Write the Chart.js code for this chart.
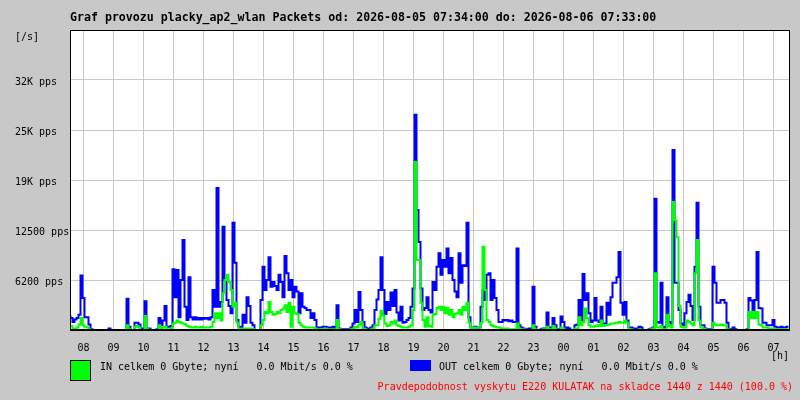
<!DOCTYPE html>
<html>
<head>
<meta charset="utf-8">
<script src="https://cdn.jsdelivr.net/npm/chart.js@4/dist/chart.umd.min.js"></script>
<style>
  html, body { margin: 0; padding: 0; background: #c8c8c8; }
  #graf { display: block; }
</style>
</head>
<body>
<canvas id="graf" width="800" height="400"></canvas>
<script>
const titleText = 'Graf provozu placky_ap2_wlan Packets od: 2026-08-05 07:34:00 do: 2026-08-06 07:33:00';
const hourLabels = ['08','09','10','11','12','13','14','15','16','17','18','19',
                    '20','21','22','23','00','01','02','03','04','05','06','07'];
const yTickLabels = ['', '6200 pps', '12500 pps', '19K pps', '25K pps', '32K pps', ''];
const firstHourMin = 26;   // 07:34 -> 08:00
const stepMin = 4;         // one sample every 4 minutes

// OUT (blue), packets per second
const outPps = [
  1800,1500,1000,1300,1500,1900,6800,4000,1600,1600,700,100,0,0,0,
  0,0,0,0,0,200,0,0,0,0,0,0,0,0,3900,
  400,0,0,900,900,700,100,200,3600,200,200,0,0,0,100,
  1500,600,1200,3000,400,400,500,7600,4100,7500,1600,6250,11250,2900,1250,
  6600,1600,1300,1600,1300,1500,1300,1500,1400,1500,1300,1600,5000,2900,17750,
  2900,3500,12900,6250,3750,3000,2100,13400,8400,1250,400,300,1900,900,4100,
  3000,900,600,0,0,0,3750,7900,5000,6250,9100,5400,6000,5500,5000,
  6900,6000,4100,9250,7100,5000,6250,4100,5400,4800,2100,4600,2900,2750,2500,
  2500,1500,2100,1250,250,300,300,400,400,200,300,200,400,200,3100,
  200,100,0,100,0,100,300,800,2500,1000,4750,2500,1000,300,200,
  200,300,600,2500,3800,5000,9100,5000,2000,3500,2500,4700,3000,5000,2200,
  1200,2900,900,1000,1250,1500,2900,5200,26900,15000,11000,5200,2500,2750,4100,
  2500,2200,6000,5000,7900,9600,6900,8750,7900,10200,7100,9000,6250,4800,4100,
  9600,5900,8100,8000,13400,1600,300,300,400,300,300,2900,5000,3750,6900,
  7100,3750,6250,4000,2500,1000,1000,1250,1200,1250,1100,1200,1000,1000,10200,
  600,300,200,100,100,200,100,5400,400,0,0,100,200,200,2200,
  300,200,1500,600,100,0,1700,1000,200,300,200,0,0,600,700,
  3750,1000,7000,3750,4600,2100,1000,1200,4000,1200,1000,2900,800,800,3400,
  1900,4100,5900,5900,6600,9750,3400,1900,3500,1200,300,300,200,200,200,
  400,300,0,0,0,100,200,300,16400,1000,900,5900,400,300,4100,
  1000,800,22500,5900,5900,2500,800,600,2100,3500,4400,3000,1250,7900,15900,
  2900,600,600,200,100,100,100,7900,5900,3400,3400,3750,3750,3400,900,
  100,100,300,100,0,0,0,0,0,100,4000,3700,1600,3750,9750,
  2750,2700,900,900,600,600,600,1250,400,300,300,400,300,300,400
];

// IN (green), packets per second
const inPps = [
  600,500,200,200,300,700,1500,600,400,300,100,0,0,0,0,
  0,0,0,0,0,0,0,0,0,0,0,0,0,0,600,
  100,0,0,400,500,300,0,0,1750,100,0,0,0,0,0,
  600,200,300,400,100,100,200,800,900,1200,1000,900,800,700,500,
  400,300,300,400,300,300,400,300,300,300,300,400,1000,2100,1500,
  2100,1200,4600,6250,6900,6000,5000,2900,3400,900,200,100,200,100,200,
  100,200,100,0,0,0,600,1250,2250,2100,3500,2250,1900,2000,2250,
  2100,2500,2700,3100,2250,3400,400,2900,2100,2000,900,600,400,300,300,
  300,300,300,200,100,100,100,100,200,100,100,100,100,100,1250,
  100,0,0,0,0,0,100,200,400,300,700,1000,200,100,0,
  0,100,200,600,600,1400,2400,1800,800,500,600,1000,800,1200,600,
  500,400,300,300,300,400,600,2500,21000,8750,8750,3400,1250,400,1600,
  500,400,1900,2000,2750,2900,2500,2900,2100,2750,1900,2500,1600,2000,2100,
  2500,1900,2900,2500,3400,900,300,300,300,300,300,900,10400,5000,1250,
  1000,600,500,400,300,300,200,200,200,200,100,100,100,100,800,
  200,100,100,0,0,0,0,600,100,0,0,0,100,100,400,
  100,100,500,200,0,0,300,200,0,0,0,0,0,200,200,
  1600,600,1000,2700,1500,600,400,400,500,600,500,1200,500,600,600,
  700,800,800,900,900,1000,900,900,1200,900,100,100,0,0,0,
  100,0,0,0,0,0,100,200,7100,300,300,500,100,100,1900,
  500,300,16000,13700,11600,3000,400,300,300,1200,1000,800,600,7100,11250,
  1200,300,200,100,0,0,0,900,700,600,600,700,600,600,100,
  0,0,0,0,0,0,0,0,0,0,2250,1500,2250,1500,2250,
  700,600,300,300,300,200,200,200,100,100,100,100,100,100,100
];

const toPoints = arr => arr.map((v, i) => ({ x: i * stepMin, y: v }));

const mono = '"DejaVu Sans Mono", "Liberation Mono", monospace';

const decor = {
  id: 'decor',
  beforeDraw(chart) {
    const { ctx, chartArea: a } = chart;
    ctx.save();
    ctx.fillStyle = '#c8c8c8';
    ctx.fillRect(0, 0, chart.width, chart.height);
    ctx.fillStyle = '#ffffff';
    ctx.fillRect(a.left, a.top, a.right - a.left, a.bottom - a.top);
    ctx.restore();
  },
  afterDraw(chart) {
    const { ctx, chartArea: a } = chart;
    ctx.save();
    ctx.strokeStyle = '#000000';
    ctx.lineWidth = 1;
    ctx.strokeRect(a.left + 0.5, a.top + 0.5, a.right - a.left - 1, a.bottom - a.top);
    ctx.fillStyle = '#000000';
    ctx.fillRect(a.left, a.bottom - 1, a.right - a.left, 2);

    ctx.textBaseline = 'middle';
    ctx.textAlign = 'left';
    ctx.font = 'bold 11.6px ' + mono;
    ctx.fillText(titleText, 70, 18);

    ctx.font = '10px ' + mono;
    ctx.fillText('[/s]', 15, 37);
    ctx.fillText('[h]', 771, 356);

    ctx.fillStyle = '#00ff00';
    ctx.fillRect(70, 360, 21, 21);
    ctx.strokeStyle = '#000000';
    ctx.strokeRect(70.5, 360.5, 20, 20);
    ctx.fillStyle = '#0000ff';
    ctx.fillRect(410, 360, 21, 11);

    ctx.fillStyle = '#000000';
    ctx.fillText('IN celkem 0 Gbyte; nyní   0.0 Mbit/s 0.0 %', 100, 367);
    ctx.fillText('OUT celkem 0 Gbyte; nyní   0.0 Mbit/s 0.0 %', 439, 367);

    ctx.fillStyle = '#ff0000';
    ctx.textAlign = 'right';
    ctx.fillText('Pravdepodobnost vyskytu E220 KULATAK na skladce 1440 z 1440 (100.0 %)', 793, 387);
    ctx.restore();
  }
};

new Chart(document.getElementById('graf'), {
  type: 'line',
  data: {
    datasets: [
      {
        label: 'IN',
        data: toPoints(inPps),
        borderColor: '#00ff00',
        borderWidth: 2,
        pointRadius: 0,
        stepped: 'after',
        fill: false
      },
      {
        label: 'OUT',
        data: toPoints(outPps),
        borderColor: '#0000ff',
        borderWidth: 2,
        pointRadius: 0,
        stepped: 'after',
        fill: false
      }
    ]
  },
  options: {
    responsive: false,
    animation: false,
    devicePixelRatio: 1,
    layout: { padding: { left: 15, right: 10, top: 30, bottom: 0 } },
    plugins: {
      legend: { display: false },
      title: { display: false },
      tooltip: { enabled: false }
    },
    scales: {
      x: {
        type: 'linear',
        min: -1,
        max: 1439,
        afterBuildTicks(scale) {
          scale.ticks = hourLabels.map((_, k) => ({ value: firstHourMin + 60 * k }));
        },
        afterFit(scale) { scale.height = 70; },
        grid: { color: '#c8c8c8', lineWidth: 1, tickLength: 0 },
        border: { display: false },
        ticks: {
          autoSkip: false,
          maxRotation: 0,
          padding: 12,
          color: '#000000',
          font: { family: mono, size: 10 },
          callback: (v, i) => hourLabels[i]
        }
      },
      y: {
        min: 0,
        max: 37500,
        afterFit(scale) { scale.width = 55; },
        grid: { color: '#c8c8c8', lineWidth: 1, tickLength: 0 },
        border: { display: false },
        ticks: {
          stepSize: 6250,
          crossAlign: 'far',
          labelOffset: 2,
          color: '#000000',
          font: { family: mono, size: 10 },
          callback: (v, i) => yTickLabels[i]
        }
      }
    }
  },
  plugins: [decor]
});
</script>
</body>
</html>
